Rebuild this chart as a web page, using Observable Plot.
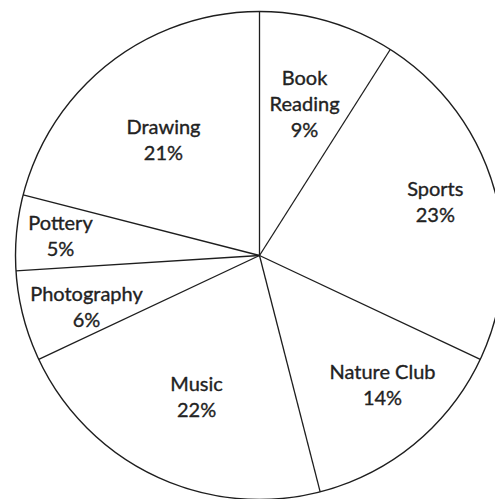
<!DOCTYPE html>
<html>
<head>
<meta charset="utf-8">
<script src="https://cdn.jsdelivr.net/npm/d3@7"></script>
<script src="https://cdn.jsdelivr.net/npm/@observablehq/plot@0.6"></script>
<style>
  html, body { margin: 0; padding: 0; background: #fff; }
  #chart svg { display: block; }
</style>
</head>
<body>
<div id="chart"></div>
<script>
// Data (clockwise from 12 o'clock)
const categories = ["Book\nReading", "Sports", "Nature Club", "Music", "Photography", "Pottery", "Drawing"];
const percents = [9, 23, 14, 22, 6, 5, 21];

// Layout settings
const W = 495, H = 499;
const cx = 259, cy = 255, R = 244;
const labelRadiusFrac = [0.654, 0.755, 0.727, 0.629, 0.738, 0.82, 0.62];
const labelAngleNudge = [0.2, -1.2, -4.3, -1.0, -1.7, 0.6, -1.6]; // degrees

const arcs = d3.pie().sort(null).value(d => d)(percents);
const px = (a, r) => cx + r * Math.sin(a);
const py = (a, r) => cy - r * Math.cos(a);

const spokes = arcs.map(a => ({x1: cx, y1: cy, x2: px(a.startAngle, R), y2: py(a.startAngle, R)}));
const labels = arcs.map((a, i) => {
  const mid = (a.startAngle + a.endAngle) / 2 + labelAngleNudge[i] * Math.PI / 180;
  const r = R * labelRadiusFrac[i];
  return {x: px(mid, r), y: py(mid, r), text: categories[i] + "\n" + percents[i] + "%"};
});

const chart = Plot.plot({
  width: W,
  height: H,
  margin: 0,
  x: {domain: [0, W], range: [0, W], axis: null},
  y: {domain: [0, H], range: [0, H], axis: null},
  style: {background: "#fff"},
  marks: [
    Plot.dot([{x: cx, y: cy}], {x: "x", y: "y", r: R, fill: "none", stroke: "#1e1e1e", strokeWidth: 1.4}),
    Plot.link(spokes, {x1: "x1", y1: "y1", x2: "x2", y2: "y2", stroke: "#1e1e1e", strokeWidth: 1.3}),
    Plot.text(labels, {x: "x", y: "y", text: "text", fontSize: 20, lineHeight: 1.3,
      fill: "#222", stroke: "#222", strokeWidth: 0.35,
      fontFamily: "Lato, sans-serif"})
  ]
});
document.getElementById("chart").append(chart);
</script>
</body>
</html>
